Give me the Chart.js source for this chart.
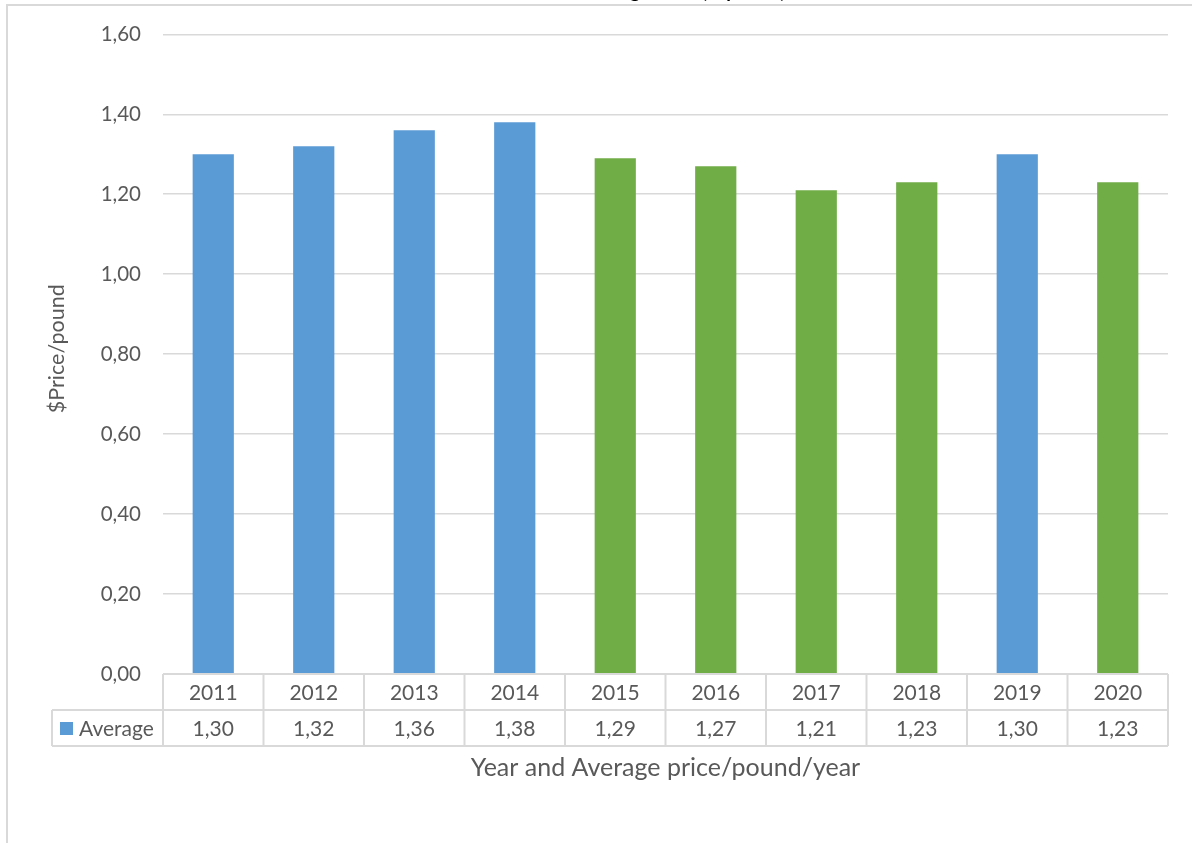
<!DOCTYPE html>
<html>
<head>
<meta charset="utf-8">
<title>Average Price ($/pound)</title>
<script src="https://cdn.jsdelivr.net/npm/chart.js@4"></script>
<style>
  html, body { margin: 0; padding: 0; background: #fff; overflow: hidden; }
  #wrap { position: relative; width: 1192px; height: 843px; }
  #cut-title {
    position: absolute; left: 581px; top: -19px;
    font: bold 19px Lato, sans-serif; line-height: 19px;
    color: #000; white-space: nowrap; z-index: 2;
  }
</style>
</head>
<body>
<div id="wrap">
  <div id="cut-title">Average Price ($/pound)</div>
  <canvas id="chart"></canvas>
</div>
<script>
// Chart data
const years = ['2011', '2012', '2013', '2014', '2015', '2016', '2017', '2018', '2019', '2020'];
const averagePrice = [1.30, 1.32, 1.36, 1.38, 1.29, 1.27, 1.21, 1.23, 1.30, 1.23];
const yTicks = [0, 0.2, 0.4, 0.6, 0.8, 1.0, 1.2, 1.4, 1.6];
const seriesName = 'Average';

// Styles
const BLUE = '#5B9BD5';
const GREEN = '#70AD47';
const barColors = [BLUE, BLUE, BLUE, BLUE, GREEN, GREEN, GREEN, GREEN, BLUE, GREEN];
const TEXT = '#595959';
const LINE = '#D9D9D9';
const FONT = 'Lato, "Open Sans", sans-serif';

const fmt = v => v.toFixed(2).replace('.', ',');

// Outer chart frame (only left/top edges are inside the picture)
const framePlugin = {
  id: 'frame',
  beforeDraw(chart) {
    const ctx = chart.ctx;
    ctx.save();
    ctx.strokeStyle = LINE;
    ctx.lineWidth = 2;
    ctx.strokeRect(7, 5, 1400, 1000);
    ctx.restore();
  }
};

// Excel style data table under the x axis
const dataTablePlugin = {
  id: 'dataTable',
  afterDraw(chart) {
    const {ctx, chartArea, scales: {x}} = chart;
    const half = (x.getPixelForValue(1) - x.getPixelForValue(0)) / 2;
    const top = chartArea.bottom;
    const mid = top + 36;
    const bot = mid + 36;
    const legendLeft = 52;

    ctx.save();
    ctx.strokeStyle = LINE;
    ctx.lineWidth = 2;
    ctx.beginPath();
    ctx.moveTo(chartArea.left, top); ctx.lineTo(chartArea.right, top);
    ctx.moveTo(legendLeft, mid); ctx.lineTo(chartArea.right, mid);
    ctx.moveTo(legendLeft, bot); ctx.lineTo(chartArea.right, bot);
    ctx.moveTo(legendLeft, mid); ctx.lineTo(legendLeft, bot);
    ctx.moveTo(chartArea.left, top); ctx.lineTo(chartArea.left, bot);
    years.forEach((y, i) => {
      const r = x.getPixelForValue(i) + half;
      ctx.moveTo(r, top); ctx.lineTo(r, bot);
    });
    ctx.stroke();

    ctx.fillStyle = TEXT;
    ctx.font = '21px ' + FONT;
    ctx.textAlign = 'center';
    ctx.textBaseline = 'middle';
    years.forEach((y, i) => {
      const cx = x.getPixelForValue(i);
      ctx.fillText(y, cx, (top + mid) / 2 + 1);
      ctx.fillText(fmt(averagePrice[i]), cx, (mid + bot) / 2 + 1);
    });

    // legend key
    ctx.fillStyle = BLUE;
    ctx.fillRect(60, 722, 13, 13);
    ctx.fillStyle = TEXT;
    ctx.textAlign = 'left';
    ctx.fillText(seriesName, 79, (mid + bot) / 2 + 1);
    ctx.restore();
  }
};

new Chart(document.getElementById('chart'), {
  type: 'bar',
  data: {
    labels: years,
    datasets: [{
      label: seriesName,
      data: averagePrice,
      backgroundColor: barColors,
      borderWidth: 0,
      categoryPercentage: 1,
      barPercentage: 0.41
    }]
  },
  options: {
    responsive: true,
    maintainAspectRatio: false,
    animation: false,
    layout: { padding: { top: 34, right: 24, bottom: 0, left: 0 } },
    plugins: {
      legend: { display: false },
      tooltip: { enabled: false }
    },
    scales: {
      x: {
        grid: { display: false },
        border: { display: false },
        ticks: { display: false },
        afterFit: scale => { scale.height = 169; },
        title: {
          display: true,
          text: 'Year and Average price/pound/year',
          color: TEXT,
          font: { family: FONT, size: 25 },
          padding: { top: 0, bottom: 60 }
        }
      },
      y: {
        min: 0,
        max: 1.6,
        afterBuildTicks: scale => { scale.ticks = yTicks.map(v => ({ value: v })); },
        grid: { color: LINE, lineWidth: 1.5, drawTicks: false },
        border: { display: false },
        ticks: {
          color: TEXT,
          padding: 22,
          font: { family: FONT, size: 20.5 },
          callback: v => fmt(v)
        },
        afterFit: scale => { scale.width = 163; },
        title: {
          display: true,
          text: '  $Price/pound',
          color: TEXT,
          font: { family: FONT, size: 21.5 },
          padding: { top: 44 }
        }
      }
    }
  },
  plugins: [framePlugin, dataTablePlugin]
});
</script>
</body>
</html>
